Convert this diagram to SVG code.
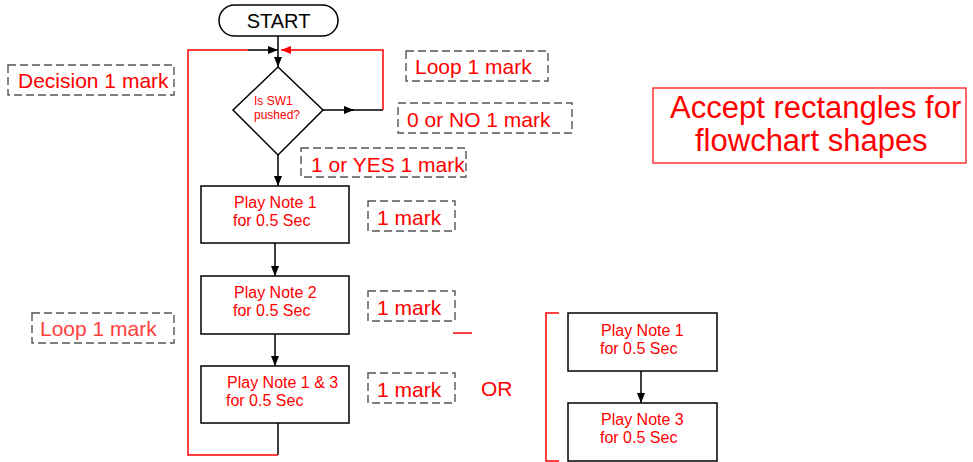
<svg xmlns="http://www.w3.org/2000/svg" width="973" height="462" viewBox="0 0 973 462">
  <style>
    text { font-family: "Liberation Sans", Arial, sans-serif; }
    .box { fill: #fff; stroke: #000; stroke-width: 1.5; }
    .lbl { fill: #ff0000; font-size: 16px; }
    .mark { fill: none; stroke: #555; stroke-width: 1.4; stroke-dasharray: 8 4; }
    .mtxt { fill: #ff0000; font-size: 21px; }
    .blk { fill: none; stroke: #000; stroke-width: 1.5; }
    .red { fill: none; stroke: #ff0000; stroke-width: 1.5; }
  </style>
  <defs>
    <marker id="arrow" viewBox="0 0 10 8" refX="10" refY="4" markerWidth="10" markerHeight="8" markerUnits="userSpaceOnUse" orient="auto">
      <path d="M0,0 L10,4 L0,8 Z" fill="#000"/>
    </marker>
    <marker id="arrowRed" viewBox="0 0 10 8" refX="10" refY="4" markerWidth="10" markerHeight="8" markerUnits="userSpaceOnUse" orient="auto">
      <path d="M0,0 L10,4 L0,8 Z" fill="#ff0000"/>
    </marker>
  </defs>

  <!-- connectors -->
  <g id="connectors">
    <line class="blk" x1="278" y1="36" x2="278" y2="67" marker-end="url(#arrow)"/>
    <line class="blk" x1="278" y1="155" x2="278" y2="186" marker-end="url(#arrow)"/>
    <line class="blk" x1="275" y1="243" x2="275" y2="276" marker-end="url(#arrow)"/>
    <line class="blk" x1="275" y1="334" x2="275" y2="366" marker-end="url(#arrow)"/>
    <!-- NO branch back to the decision -->
    <line class="blk" x1="323" y1="110" x2="354" y2="110" marker-end="url(#arrow)"/>
    <line class="blk" x1="352" y1="110" x2="383" y2="110"/>
    <polyline class="red" points="383,110 383,50 281,50" marker-end="url(#arrowRed)"/>
    <!-- main loop back to the decision -->
    <line class="blk" x1="278" y1="423" x2="278" y2="455"/>
    <polyline class="red" points="278,455 188,455 188,50 248,50"/>
    <line class="blk" x1="248" y1="50" x2="278" y2="50" marker-end="url(#arrow)"/>
    <!-- alternative sequence -->
    <line class="blk" x1="641" y1="371" x2="641" y2="403" marker-end="url(#arrow)"/>
  </g>

  <g id="start">
    <rect x="219" y="5" width="119" height="31" rx="15.5" ry="15.5" class="box"/>
    <text x="278.5" y="28" font-size="20" text-anchor="middle" fill="#000">START</text>
  </g>

  <g id="decision">
    <polygon points="278,67 323,110 278,155 233,110" class="box"/>
    <text x="254" y="105" font-size="12" fill="#ff0000">Is SW1</text>
    <text x="254" y="119" font-size="12" fill="#ff0000">pushed?</text>
  </g>

  <g id="note1">
    <rect x="201" y="186" width="148" height="57" class="box"/>
    <text x="234" y="208" class="lbl">Play Note 1</text>
    <text x="233" y="226" class="lbl">for 0.5 Sec</text>
  </g>

  <g id="note2">
    <rect x="201" y="276" width="148" height="58" class="box"/>
    <text x="234" y="298" class="lbl">Play Note 2</text>
    <text x="233" y="316" class="lbl">for 0.5 Sec</text>
  </g>

  <g id="note13">
    <rect x="201" y="366" width="148" height="57" class="box"/>
    <text x="227" y="388" class="lbl">Play Note 1 &amp; 3</text>
    <text x="226" y="406" class="lbl">for 0.5 Sec</text>
  </g>

  <g id="alt-note1">
    <rect x="568" y="313" width="149" height="58" class="box"/>
    <text x="601" y="336" class="lbl">Play Note 1</text>
    <text x="600" y="354" class="lbl">for 0.5 Sec</text>
  </g>

  <g id="alt-note3">
    <rect x="568" y="403" width="149" height="58" class="box"/>
    <text x="601" y="425" class="lbl">Play Note 3</text>
    <text x="600" y="443" class="lbl">for 0.5 Sec</text>
  </g>

  <!-- mark annotations -->
  <g id="mark-decision">
    <rect x="8" y="65" width="166" height="30" class="mark"/>
    <text x="18" y="88" class="mtxt">Decision 1 mark</text>
  </g>
  <g id="mark-loop-top">
    <rect x="406" y="51" width="142" height="30" class="mark"/>
    <text x="415" y="74" class="mtxt">Loop 1 mark</text>
  </g>
  <g id="mark-no">
    <rect x="398" y="103" width="174" height="30" class="mark"/>
    <text x="407" y="127" class="mtxt">0 or NO 1 mark</text>
  </g>
  <g id="mark-yes">
    <rect x="301" y="148" width="165" height="29" class="mark"/>
    <text x="311" y="172" class="mtxt">1 or YES 1 mark</text>
  </g>
  <g id="mark-note1">
    <rect x="368" y="201" width="87" height="30" class="mark"/>
    <text x="377" y="225" class="mtxt">1 mark</text>
  </g>
  <g id="mark-note2">
    <rect x="368" y="291" width="87" height="30" class="mark"/>
    <text x="377" y="315" class="mtxt">1 mark</text>
  </g>
  <g id="mark-note13">
    <rect x="368" y="373" width="87" height="30" class="mark"/>
    <text x="377" y="397" class="mtxt">1 mark</text>
  </g>
  <g id="mark-loop-left">
    <rect x="32" y="313" width="142" height="30" class="mark"/>
    <text x="40" y="336" class="mtxt" style="fill:#ff4040">Loop 1 mark</text>
  </g>

  <g id="or-bracket">
    <line class="red" x1="453" y1="333" x2="472" y2="333"/>
    <text x="481" y="396" class="mtxt">OR</text>
    <polyline class="red" points="559,313 546,313 546,461 559,461"/>
  </g>

  <g id="note-shapes">
    <rect x="653" y="88" width="313" height="75" fill="none" stroke="#ff0000" stroke-width="1.2"/>
    <text x="670" y="118" font-size="31" fill="#ff0000">Accept rectangles for</text>
    <text x="695" y="151" font-size="31" fill="#ff0000">flowchart shapes</text>
  </g>
</svg>
